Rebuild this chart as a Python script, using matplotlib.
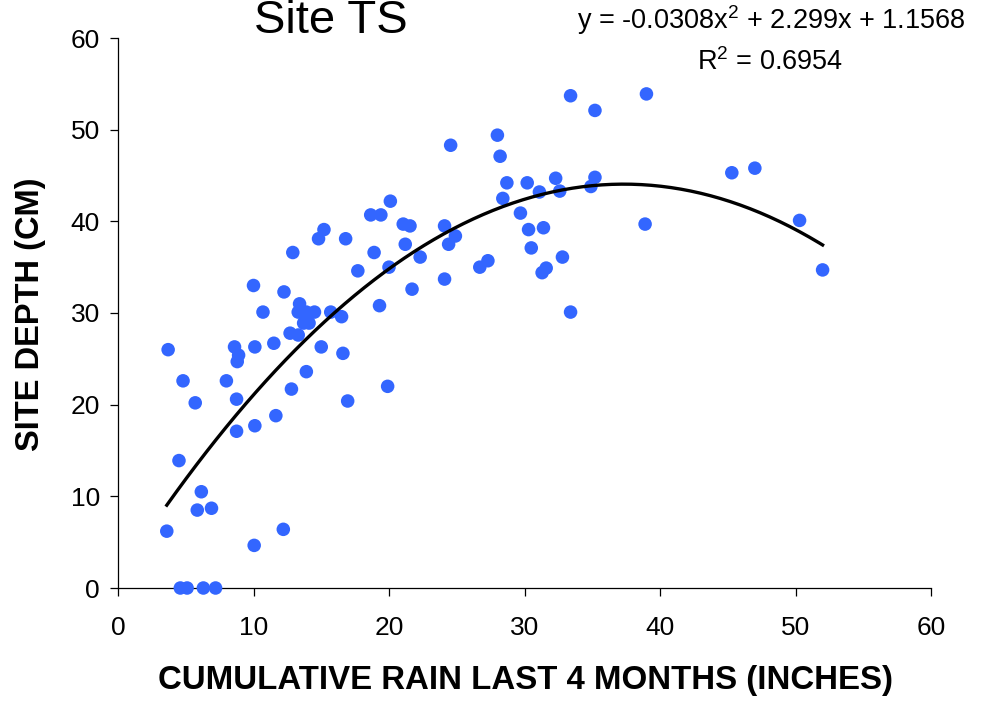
import numpy as np
import matplotlib
matplotlib.use('Agg')
import matplotlib.pyplot as plt

plt.rcParams['font.family'] = ['Liberation Sans', 'DejaVu Sans']
plt.rcParams['mathtext.fontset'] = 'custom'
plt.rcParams['mathtext.rm'] = 'Liberation Sans'
plt.rcParams['mathtext.it'] = 'Liberation Sans:italic'

# Rain (inches) vs. site depth (cm)
rain = [3.6, 3.7, 4.5, 4.8, 4.6, 5.1, 5.7, 5.85, 6.15, 6.3, 6.9, 7.2,
        8.0, 8.6, 8.9, 8.8, 8.75, 8.75, 10.0, 10.1, 10.1, 10.05, 10.7,
        11.5, 11.65, 12.25, 12.2, 12.9, 12.7, 13.3, 12.8, 13.9, 13.4,
        13.3, 13.9, 14.5, 13.7, 14.1, 13.9, 15.0, 14.8, 15.2, 15.7, 16.5,
        16.6, 16.8, 16.95, 17.7, 18.65, 18.9, 19.3, 19.4, 19.9, 20.0,
        20.1, 21.05, 21.55, 21.2, 21.7, 22.3, 24.1, 24.9, 24.4, 24.1,
        24.55, 26.7, 27.3, 28.0, 28.2, 28.4, 28.7, 29.7, 30.2, 30.3, 30.5,
        31.1, 31.4, 31.3, 31.6, 32.3, 32.6, 32.8, 33.4, 33.4, 34.9, 35.2,
        35.2, 38.9, 39.0, 45.3, 47.0, 50.3, 52.0]
depth = [6.2, 26.0, 13.9, 22.6, 0.0, 0.0, 20.2, 8.5, 10.5, 0.0, 8.7, 0.0,
         22.6, 26.3, 25.4, 24.7, 20.6, 17.1, 33.0, 26.3, 17.7, 4.65, 30.1,
         26.7, 18.8, 32.3, 6.4, 36.6, 27.8, 27.6, 21.7, 23.6, 31.0,
         30.1, 30.1, 30.1, 28.9, 28.9, 29.6, 26.3, 38.1, 39.1, 30.1, 29.6,
         25.6, 38.1, 20.4, 34.6, 40.7, 36.6, 30.8, 40.7, 22.0, 35.0,
         42.2, 39.7, 39.5, 37.5, 32.6, 36.1, 39.5, 38.4, 37.5, 33.7,
         48.3, 35.0, 35.7, 49.4, 47.1, 42.5, 44.2, 40.9, 44.2, 39.1, 37.1,
         43.2, 39.3, 34.4, 34.9, 44.7, 43.3, 36.1, 53.7, 30.1, 43.8, 44.8,
         52.1, 39.7, 53.9, 45.3, 45.8, 40.1, 34.7]

# trendline coefficients as printed on the chart
coef = [-0.0308, 2.299, 1.1568]
r2 = 0.6954

fig = plt.figure(figsize=(9.85, 7.01), dpi=100)
ax = fig.add_axes([118/985, 1 - 588/701, 813/985, 550/701])

ax.scatter(rain, depth, s=95, c='#3366ff', edgecolors='none', zorder=3, clip_on=False)

xs = np.linspace(min(rain), max(rain), 200)
ax.plot(xs, np.polyval(coef, xs), color='black', lw=2.4, zorder=4)

ax.set_xlim(0, 60)
ax.set_ylim(0, 60)
ax.set_xticks(range(0, 61, 10))
ax.set_yticks(range(0, 61, 10))
for s in ['top', 'right']:
    ax.spines[s].set_visible(False)
for s in ['left', 'bottom']:
    ax.spines[s].set_linewidth(0.9)
ax.tick_params(axis='x', length=6, width=0.9, pad=14, labelsize=19)
ax.tick_params(axis='y', length=6, width=0.9, pad=7, labelsize=19)

fig.text(525/985, 1 - 680/701, 'CUMULATIVE RAIN LAST 4 MONTHS (INCHES)',
         ha='center', va='center', fontsize=23.8, fontweight='bold')
fig.text(31/985, 1 - 314/701, 'SITE DEPTH (CM)', rotation=90,
         ha='center', va='center', fontsize=23.5, fontweight='bold')

fig.text(331/985, 1 - 33/701, 'Site TS', ha='center', va='baseline', fontsize=34)
fig.text(771/985, 1 - 29/701, 'y = %.4fx$^2$ + %.3fx + %.4f' % tuple(coef),
         ha='center', va='baseline', fontsize=19.5)
fig.text(770/985, 1 - 70/701, 'R$^2$ = %.4f' % r2,
         ha='center', va='baseline', fontsize=19.5)

fig.savefig('out.png', dpi=100)
